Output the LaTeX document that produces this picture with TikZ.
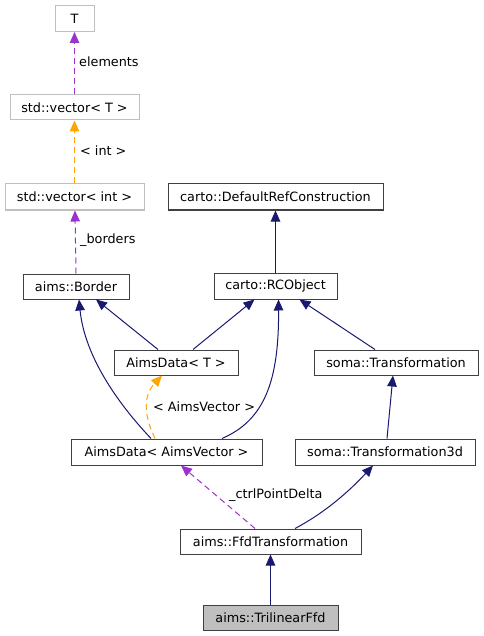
\documentclass[tikz,border=0pt]{standalone}
\usepackage{fontspec}
\setmainfont{DejaVu Sans}
\usetikzlibrary{arrows.meta,calc}
\definecolor{navy}{HTML}{191970}
\definecolor{purp}{HTML}{9A32CD}
\definecolor{orng}{HTML}{FFA500}
\definecolor{ltgray}{HTML}{BFBFBF}
\definecolor{bdr}{HTML}{404040}
\tikzset{
  cls/.style={draw=bdr, fill=white, line width=1pt, inner sep=0pt, minimum height=25pt, font=\fontsize{12.8}{15}\selectfont},
  ext/.style={cls, draw=ltgray},
  cur/.style={cls, fill=ltgray},
  inh/.style={draw=navy, line width=1pt, -{Triangle[length=11pt,width=9.5pt]}},
  usepurp/.style={draw=purp, line width=1pt, dash pattern=on 6pt off 4pt, -{Triangle[length=11pt,width=9.5pt]}},
  useorng/.style={draw=orng, line width=1pt, dash pattern=on 6pt off 4pt, -{Triangle[length=11pt,width=9.5pt]}},
  lbl/.style={anchor=west, inner sep=0pt, font=\fontsize{12.8}{15}\selectfont}
}
\begin{document}
\begin{tikzpicture}[x=1pt,y=-1pt]
\useasboundingbox (0,0) rectangle (483,636);
\node[ext, minimum width=39pt, minimum height=26pt] (T) at (74.5,18.5) {T};
\node[ext, minimum width=129pt] (vecT) at (74.5,107.5) {std::vector< T >};
\node[ext, minimum width=139pt, minimum height=26pt] (vecInt) at (74.5,197) {std::vector< int >};
\node[cls, minimum width=106pt] (border) at (76,286.5) {aims::Border};
\node[cls, minimum width=215pt, minimum height=26pt] (drc) at (275.5,197) {carto::DefaultRefConstruction};
\node[cls, minimum width=123pt, minimum height=26pt] (rco) at (275.5,286) {carto::RCObject};
\node[cls, minimum width=124pt] (adT) at (176,362.5) {AimsData< T >};
\node[cls, minimum width=164pt] (soma) at (396,362.5) {soma::Transformation};
\node[cls, minimum width=191pt, minimum height=26pt] (adV) at (166.5,452) {AimsData< AimsVector >};
\node[cls, minimum width=180pt, minimum height=26pt] (t3d) at (385,452) {soma::Transformation3d};
\node[cls, minimum width=181pt] (ffd) at (270.5,541.5) {aims::FfdTransformation};
\node[cur, minimum width=135pt] (tri) at (270.5,617.5) {aims::TrilinearFfd};

\draw[usepurp] (vecT.north) -- (T.south);
\node[lbl] (lelem) at (79,62) {elements};
\draw[useorng] (vecInt.north) -- (vecT.south);
\node[lbl] (lint) at (80,151) {< int >};
\draw[usepurp] (border.north) -- ($(vecInt.south)+(0.5,0)$);
\node[lbl] (lbord) at (80,240) {\_borders};

\draw[inh] (rco.north) -- (drc.south);
\draw[inh] ($(adT.north)+(-18,0)$) -- ($(border.south)+(20,0)$);
\draw[inh] ($(adT.north)+(17,0)$) -- ($(rco.south)+(-21,0)$);
\draw[inh] ($(adV.north)+(-15.5,0)$) .. controls (110,395) and (84,350) .. ($(border.south)+(3,0)$);
\draw[inh] ($(adV.north)+(55.5,0)$) .. controls (265,420) and (279,380) .. ($(rco.south)+(3,0)$);
\draw[useorng] ($(adV.north)+(-11.5,0)$) .. controls (146,420) and (141,398) .. ($(adT.south)+(-14,0)$);
\node[lbl] (laims) at (153,407) {< AimsVector >};
\draw[inh] ($(soma.north)+(-21,0)$) -- ($(rco.south)+(24,0)$);
\draw[inh] ($(t3d.north)+(2,0)$) -- ($(soma.south)+(-3,0)$);
\draw[inh] ($(ffd.north)+(24.5,0)$) .. controls (330,510) and (355,485) .. ($(t3d.south)+(-12,0)$);
\draw[usepurp] ($(ffd.north)+(-15.5,0)$) -- ($(adV.south)+(14.5,0)$);
\node[lbl] (lctrl) at (229,495) {\_ctrlPointDelta};
\draw[inh] (tri.north) -- (ffd.south);
\end{tikzpicture}
\end{document}
